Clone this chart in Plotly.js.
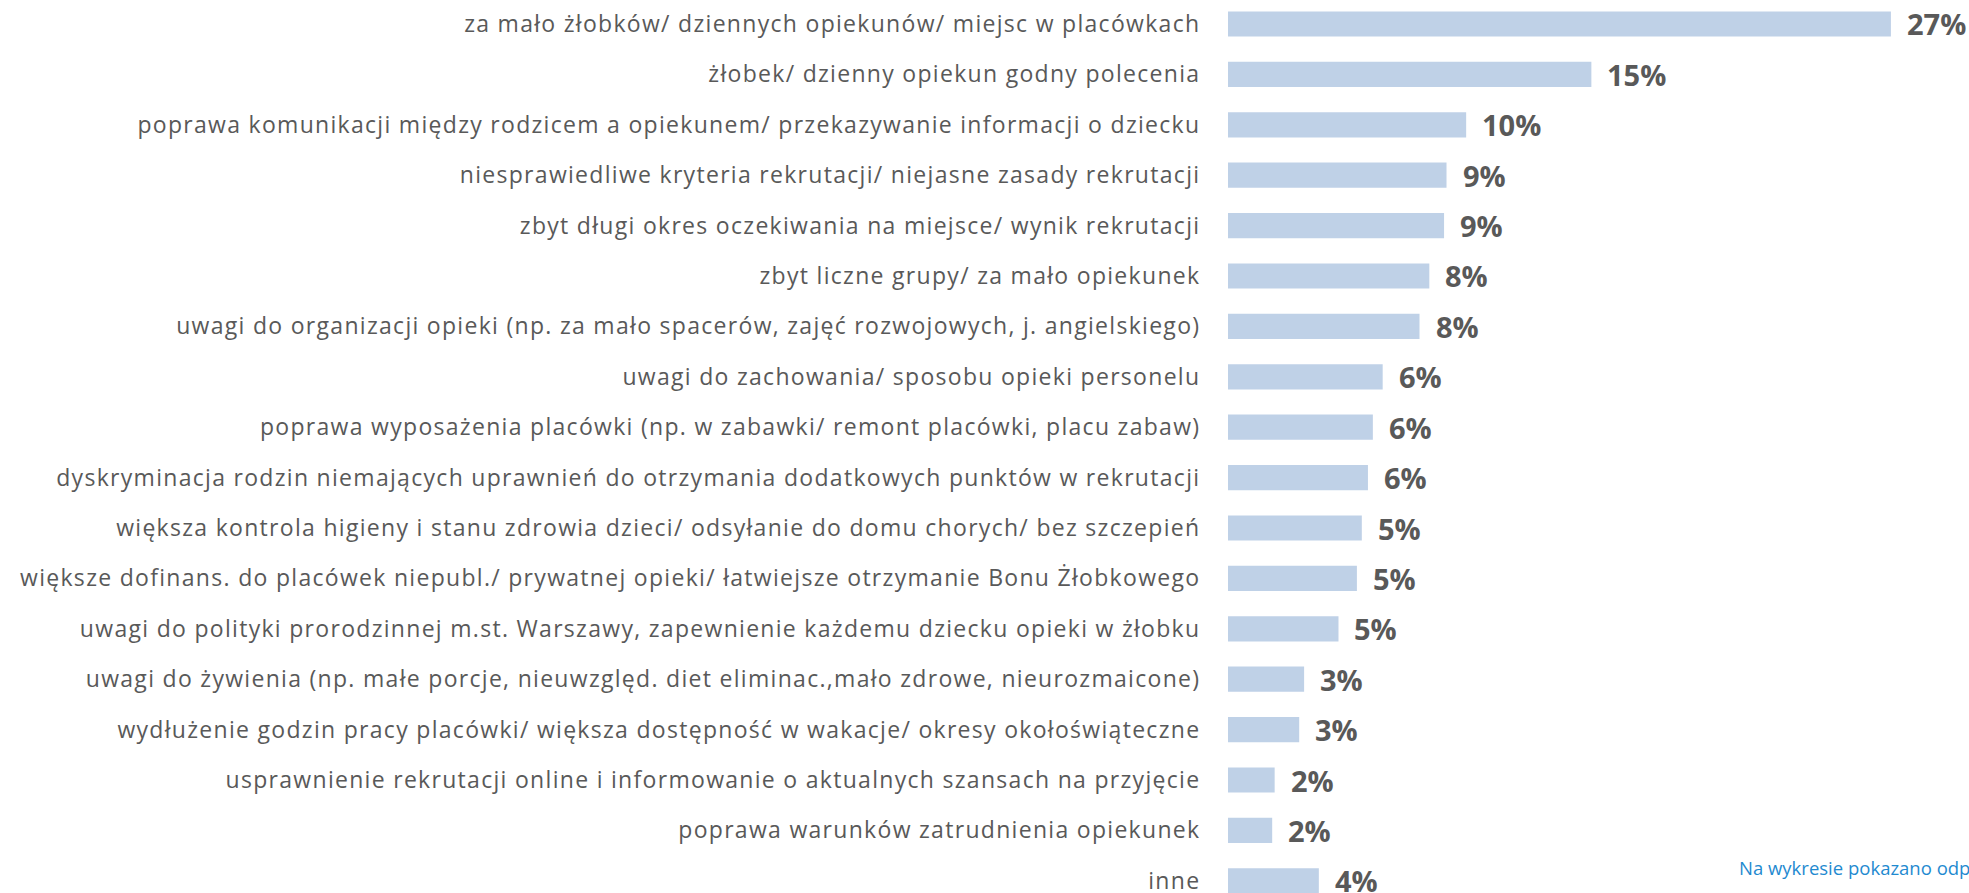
<!DOCTYPE html>
<html>
<head>
<meta charset="utf-8">
<script src="https://cdn.plot.ly/plotly-3.0.1.min.js"></script>
<style>
html,body{margin:0;padding:0;background:#fff;overflow:hidden}
#chart{width:1969px;height:893px}
#chart .ytick text{letter-spacing:1.3px}
</style>
</head>
<body>
<div id="chart"></div>
<script>
const categories = [
  "za mało żłobków/ dziennych opiekunów/ miejsc w placówkach",
  "żłobek/ dzienny opiekun godny polecenia",
  "poprawa komunikacji między rodzicem a opiekunem/ przekazywanie informacji o dziecku",
  "niesprawiedliwe kryteria rekrutacji/ niejasne zasady rekrutacji",
  "zbyt długi okres oczekiwania na miejsce/ wynik rekrutacji",
  "zbyt liczne grupy/ za mało opiekunek",
  "uwagi do organizacji opieki (np. za mało spacerów, zajęć rozwojowych, j. angielskiego)",
  "uwagi do zachowania/ sposobu opieki personelu",
  "poprawa wyposażenia placówki (np. w zabawki/ remont placówki, placu zabaw)",
  "dyskryminacja rodzin niemających uprawnień do otrzymania dodatkowych punktów w rekrutacji",
  "większa kontrola higieny i stanu zdrowia dzieci/ odsyłanie do domu chorych/ bez szczepień",
  "większe dofinans. do placówek niepubl./ prywatnej opieki/ łatwiejsze otrzymanie Bonu Żłobkowego",
  "uwagi do polityki prorodzinnej m.st. Warszawy, zapewnienie każdemu dziecku opieki w żłobku",
  "uwagi do żywienia (np. małe porcje, nieuwzględ. diet eliminac.,mało zdrowe, nieurozmaicone)",
  "wydłużenie godzin pracy placówki/ większa dostępność w wakacje/ okresy okołoświąteczne",
  "usprawnienie rekrutacji online i informowanie o aktualnych szansach na przyjęcie",
  "poprawa warunków zatrudnienia opiekunek",
  "inne"
];
const values = [27.0, 14.8, 9.7, 8.9, 8.8, 8.2, 7.8, 6.3, 5.9, 5.7, 5.45, 5.25, 4.5, 3.1, 2.9, 1.9, 1.8, 3.7];
const valueLabels = ["27%", "15%", "10%", "9%", "9%", "8%", "8%", "6%", "6%", "6%", "5%", "5%", "5%", "3%", "3%", "2%", "2%", "4%"];
const footnote = "Na wykresie pokazano odp";

const trace = {
  type: "bar",
  orientation: "h",
  x: values,
  y: categories,
  marker: {color: "#BFD1E7", line: {width: 0}},
  width: 0.5,
  hoverinfo: "none"
};

const annotations = values.map((v, i) => ({
  x: v, y: categories[i], xref: "x", yref: "y",
  text: valueLabels[i], showarrow: false,
  xanchor: "left", yanchor: "middle", xshift: 14, yshift: 0,
  font: {family: "Open Sans", size: 29, color: "#595959", weight: 700}
}));
annotations.push({
  x: 0.687, y: 0.028, xref: "paper", yref: "paper",
  text: footnote, showarrow: false, xanchor: "left", yanchor: "middle",
  font: {family: "Open Sans", size: 18.5, color: "#1F8AD0"}
});

const layout = {
  width: 1969, height: 893,
  margin: {l: 1228, r: 0, t: 0, b: 0, pad: 0},
  paper_bgcolor: "#fff", plot_bgcolor: "#fff",
  showlegend: false,
  xaxis: {range: [0, 30.18], visible: false, fixedrange: true},
  yaxis: {
    type: "category", range: [17.242, -0.476], autorange: false,
    showgrid: false, zeroline: false, showline: false,
    ticks: "outside", ticklen: 22, tickcolor: "rgba(0,0,0,0)",
    tickfont: {family: "Open Sans", size: 23, color: "#595959"},
    automargin: false
  },
  annotations: annotations
};

Plotly.newPlot("chart", [trace], layout, {displayModeBar: false, staticPlot: true});
</script>
</body>
</html>
